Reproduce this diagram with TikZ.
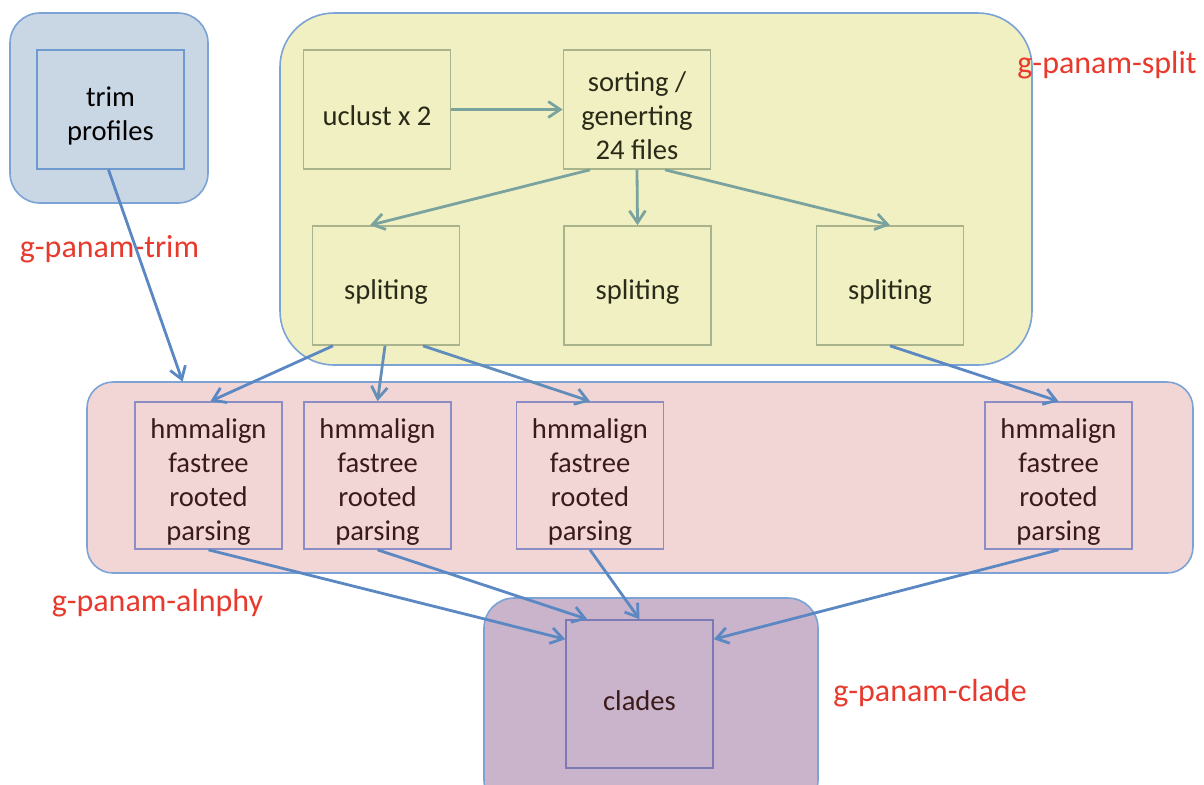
\documentclass[tikz,border=0pt]{standalone}
\usepackage{fontspec}
\setmainfont{Carlito}
\usetikzlibrary{arrows.meta,calc}
\definecolor{trimfill}{HTML}{C9D6E4}
\definecolor{splitfill}{HTML}{F1F0C2}
\definecolor{alnfill}{HTML}{F2D6D6}
\definecolor{cladefill}{HTML}{C9B4CC}
\definecolor{grpborder}{HTML}{7BA3D6}
\definecolor{trimbox}{HTML}{6F9AD0}
\definecolor{splitbox}{HTML}{A9B48C}
\definecolor{alnbox}{HTML}{8A8EC4}
\definecolor{cladebox}{HTML}{7C7AB4}
\definecolor{labred}{HTML}{E8392D}
\definecolor{arrgreen}{HTML}{7AA3A0}
\definecolor{arrblue}{HTML}{5B88C2}
\definecolor{txtdark}{HTML}{2A2A18}
\definecolor{txtmaroon}{HTML}{3A1A1A}
\newcommand{\topstrut}{\rule{0pt}{16.5pt}}
\begin{document}
\begin{tikzpicture}[x=0.5pt,y=-0.5pt,
  grp/.style={draw=grpborder,line width=0.8pt,rounded corners=#1,inner sep=0pt},
  box/.style={draw=#1,line width=0.8pt,minimum width=73.5pt,minimum height=59.5pt,inner sep=0pt,align=center,text=txtdark,font=\fontsize{14.3}{17}\selectfont},
  lab/.style={text=labred,font=\fontsize{16}{19}\selectfont,inner sep=0pt},
  arr/.style={draw=#1,line width=1.4pt,-{Straight Barb[length=6pt,width=8pt,line width=1.4pt]}},
]
\useasboundingbox (0,0) rectangle (1204,784);
\fill[white] (0,0) rectangle (1204,784);
% groups
\path[grp=15pt,fill=trimfill] (10,13) rectangle (208,203);
\node[inner sep=0pt,minimum width=99pt,minimum height=95pt] (gtrim) at (109,108) {};
\path[grp=27pt,fill=splitfill] (280,13) rectangle (1032,365);
\node[inner sep=0pt,minimum width=376pt,minimum height=176pt] (gsplit) at (656,189) {};
\path[grp=13pt,fill=alnfill] (87,382) rectangle (1193,573);
\node[inner sep=0pt,minimum width=553pt,minimum height=95.5pt] (galn) at (640,477.5) {};
\path[grp=15pt,fill=cladefill] (484,598) rectangle (818,810);
\node[inner sep=0pt,minimum width=167pt,minimum height=106pt] (gclade) at (651,704) {};
% boxes
\node[box=trimbox,text=black] (trim) at (110.5,109.5) {\topstrut trim\\profiles};
\node[box=splitbox] (uclust) at (377,109.5) {\topstrut uclust x 2};
\node[box=splitbox] (sort) at (637,109.5) {\topstrut sorting /\\generting\\24 files};
\node[box=splitbox] (spa) at (386,285.5) {\topstrut spliting};
\node[box=splitbox] (spb) at (637.5,285.5) {\topstrut spliting};
\node[box=splitbox] (spc) at (890,285.5) {\topstrut spliting};
\node[box=alnbox,text=txtmaroon,minimum height=73.5pt] (ha) at (208.5,475.5) {\topstrut hmmalign\\fastree\\rooted\\parsing};
\node[box=alnbox,text=txtmaroon,minimum height=73.5pt] (hb) at (377.5,475.5) {\topstrut hmmalign\\fastree\\rooted\\parsing};
\node[box=alnbox,text=txtmaroon,minimum height=73.5pt] (hc) at (590,475.5) {\topstrut hmmalign\\fastree\\rooted\\parsing};
\node[box=alnbox,text=txtmaroon,minimum height=73.5pt] (hd) at (1058.5,475.5) {\topstrut hmmalign\\fastree\\rooted\\parsing};
\node[box=cladebox,text=txtmaroon,minimum height=74pt] (clades) at (639.5,694) {\topstrut clades};
% labels
\node[lab] (ltrim) at (109.5,249) {g-panam-trim};
\node[lab] (lsplit) at (1107,65) {g-panam-split};
\node[lab] (laln) at (157.5,603) {g-panam-alnphy};
\node[lab] (lclade) at (930,693) {g-panam-clade};
% arrows
\draw[arr=arrgreen] (uclust.east) -- (sort.west);
\draw[arr=arrgreen] ($(sort.south)+(-47,0)$) -- ($(spa.north)+(-16,0)$);
\draw[arr=arrgreen] (sort.south) -- (spb.north);
\draw[arr=arrgreen] ($(sort.south)+(28,0)$) -- (spc.north);
\draw[arr=arrblue] ($(trim.south)+(-2,0)$) -- ($(galn.north west)+(96,0)$);
\draw[arr=arrblue] ($(spa.south)+(-53,0)$) -- ($(ha.north)+(2,0)$);
\draw[arr=arrblue!70!arrgreen] ($(spa.south)+(-1,0)$) -- (hb.north);
\draw[arr=arrblue!80!arrgreen] ($(spa.south)+(37,0)$) -- (hc.north);
\draw[arr=arrblue] (spc.south) -- (hd.north);
\draw[arr=arrblue] (ha.south) -- ($(clades.north west)+(0,20)$);
\draw[arr=arrblue] (hb.south) -- ($(clades.north west)+(22,0)$);
\draw[arr=arrblue] (hc.south) -- (clades.north);
\draw[arr=arrblue] (hd.south) -- ($(clades.north east)+(0,20)$);
\end{tikzpicture}
\end{document}
